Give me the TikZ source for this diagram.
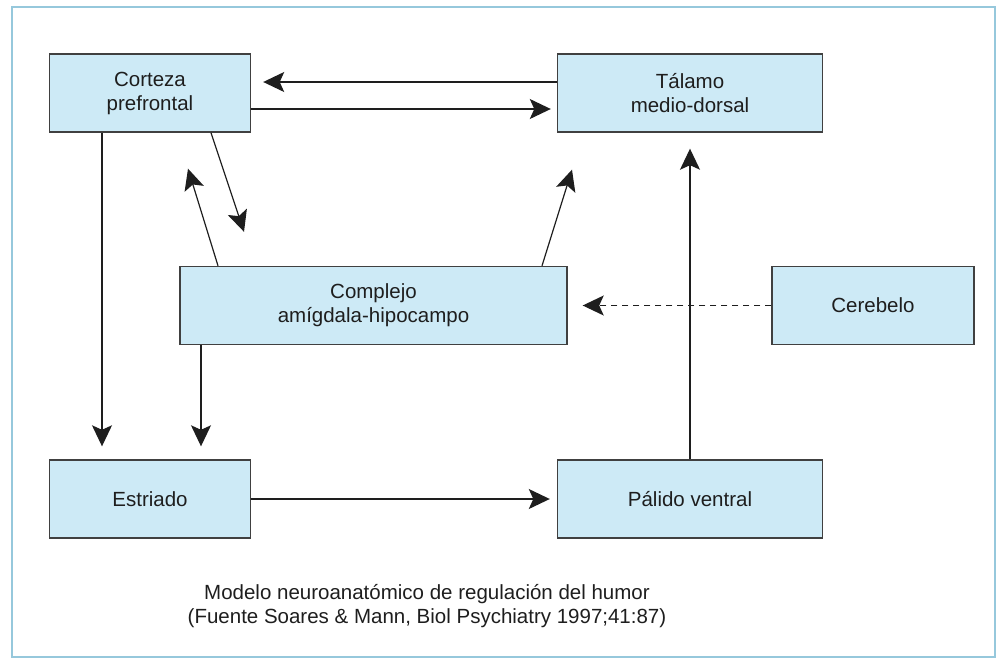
\documentclass[tikz,border=0pt]{standalone}
\usepackage{fontspec}
\setmainfont{Liberation Sans}
\usetikzlibrary{arrows.meta}
\definecolor{boxblue}{RGB}{205,234,246}
\definecolor{framec}{RGB}{150,200,220}
\definecolor{inkc}{RGB}{30,30,30}
\tikzset{
  region/.style={draw=inkc!85, line width=1.4pt, fill=boxblue, text=inkc,
    minimum height=78pt, inner sep=0pt, align=center,
    font=\fontsize{20.5}{24}\selectfont},
  arr/.style={-{Stealth[length=21pt,width=20pt,inset=4.5pt]}, line width=1.2pt, draw=inkc}
}
\begin{document}
\begin{tikzpicture}[x=1pt,y=-1pt]
        \useasboundingbox (0,0) rectangle (1002,664);
        \draw[framec, line width=1.5pt] (12,7) rectangle (995,657);
        %% regions
        \node[region, minimum width=201pt] (cortex) at (150,93) {Corteza\\prefrontal};
        \node[region, minimum width=265pt] (thal) at (690,93) {Tálamo\\medio-dorsal};
        \node[region, minimum width=387pt] (amyg) at (373.5,305.5) {Complejo\\amígdala-hipocampo};
        \node[region, minimum width=202pt] (cereb) at (873,305.5) {Cerebelo};
        \node[region, minimum width=201pt] (striat) at (150,499) {Estriado};
        \node[region, minimum width=265pt] (pall) at (690,499) {Pálido ventral};
        %% connections
        \draw[arr, shorten >=12pt] ([yshift=11pt]thal.west) -- ([yshift=11pt]cortex.east);
        \draw[arr, shorten >=6pt] ([yshift=-16pt]cortex.east) -- ([yshift=-16pt]thal.west);
        \draw[arr, shorten >=13pt] ([xshift=-48pt]cortex.south) -- ([xshift=-48pt]striat.north);
        \draw[arr, shorten >=13pt] ([xshift=-172.5pt]amyg.south) -- ([xshift=51pt]striat.north);
        \draw[arr] ([xshift=61pt]cortex.south) -- ([xshift=-129.5pt,yshift=34pt]amyg.north);
        \draw[arr] ([xshift=-155.5pt]amyg.north) -- ([xshift=38pt,yshift=-36pt]cortex.south);
        \draw[arr] ([xshift=168.5pt]amyg.north) -- ([xshift=-118pt,yshift=-37pt]thal.south);
        \draw[arr, dashed, dash pattern=on 6pt off 5pt, shorten >=15pt] (cereb.west) -- (amyg.east);
        \draw[arr, shorten >=16pt] (pall.north) -- (thal.south);
        \draw[arr, shorten >=7pt] (striat.east) -- (pall.west);
        %% caption
        \node[text=inkc, align=center, font=\fontsize{20.5}{24}\selectfont] (caption) at (427,606)
          {Modelo neuroanatómico de regulación del humor\\(Fuente Soares \& Mann, Biol Psychiatry 1997;41:87)};
\end{tikzpicture}
\end{document}
